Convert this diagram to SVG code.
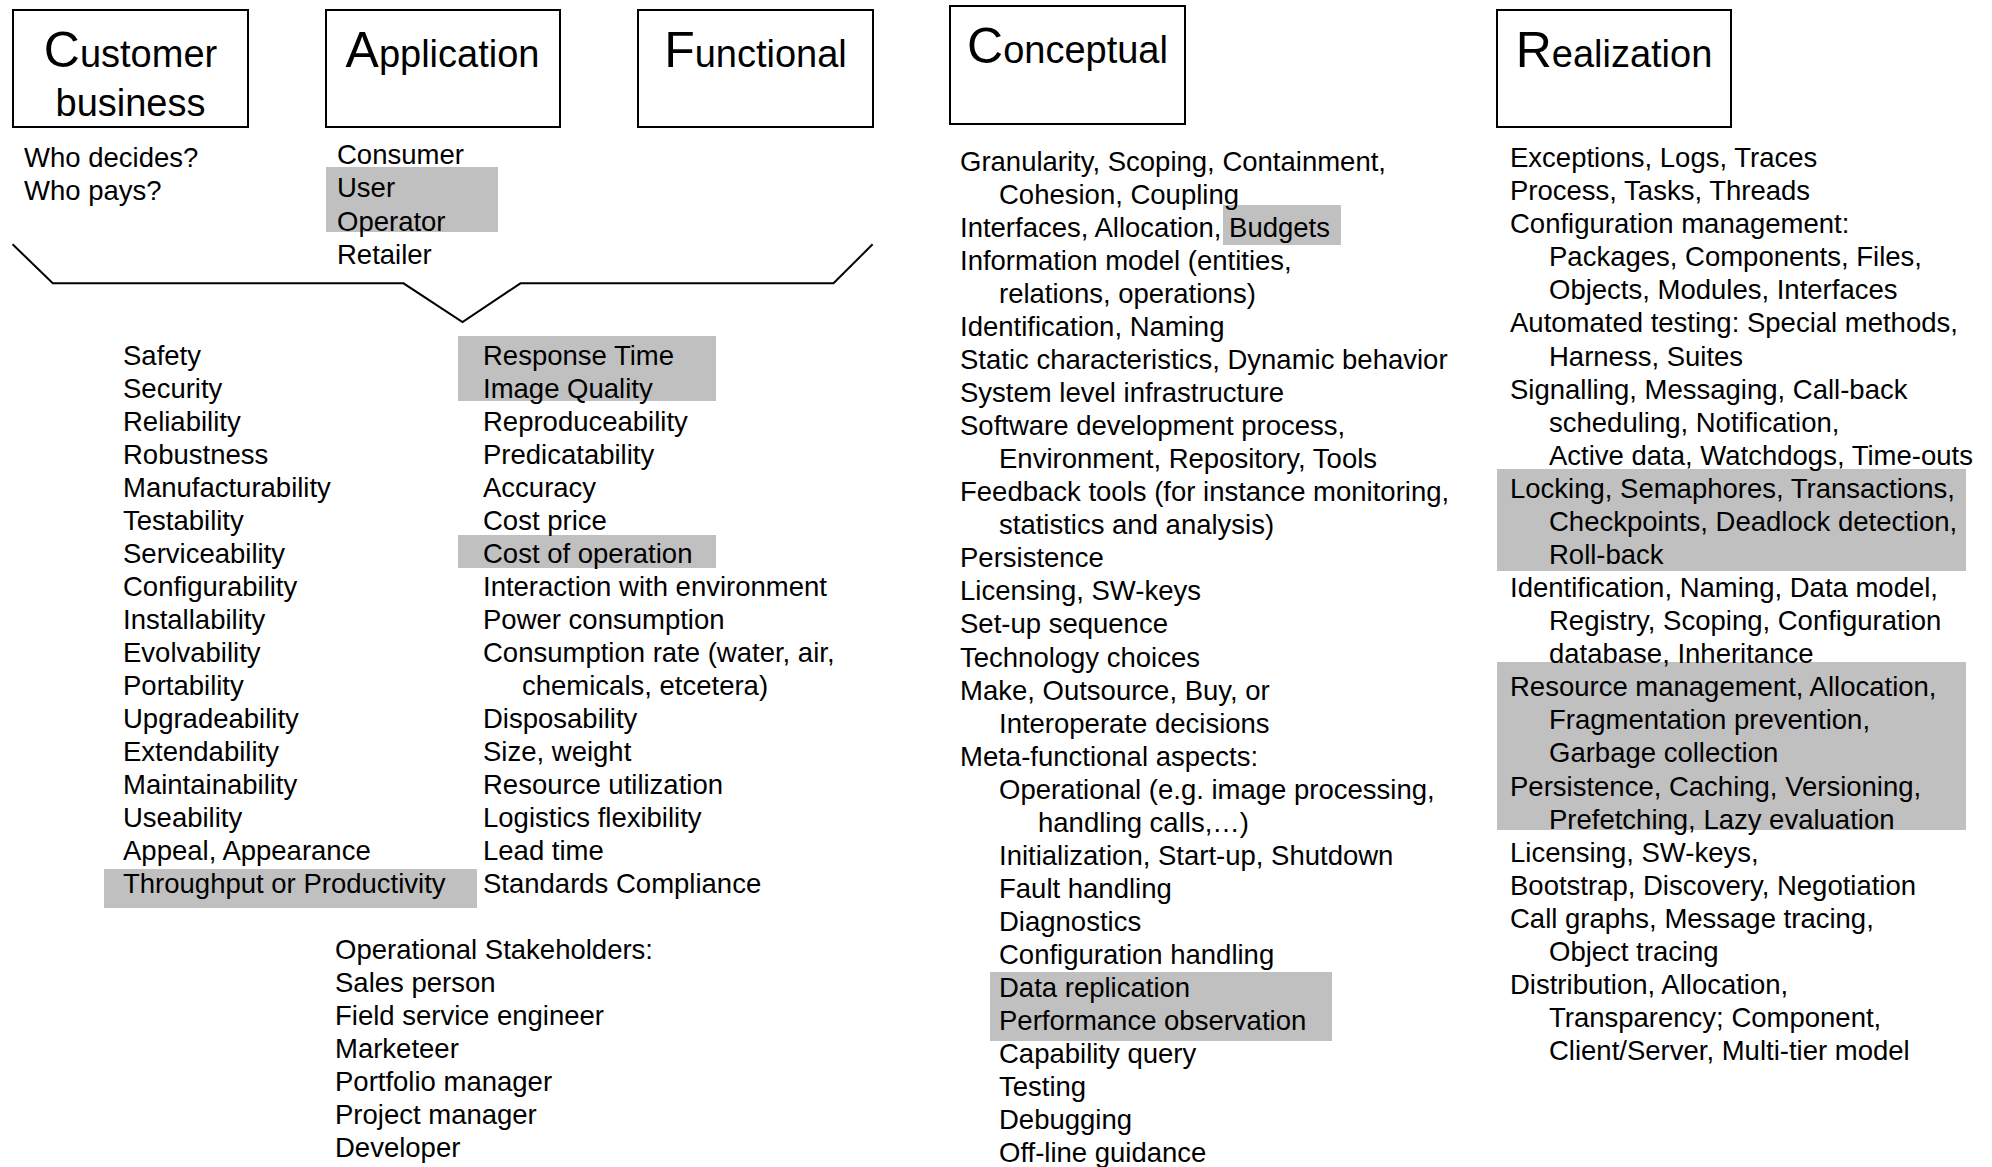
<svg xmlns="http://www.w3.org/2000/svg" width="1992" height="1167" viewBox="0 0 1992 1167">
<style>
text{font-family:"Liberation Sans",Arial,sans-serif;fill:#000}
.t{font-size:27.5px}
.h{font-size:38px}
.hc{font-size:50px}
.box{fill:#fff;stroke:#000;stroke-width:2}
.hl{fill:#c0c0c0;stroke:none}
.ln{fill:none;stroke:#000;stroke-width:2}
</style>
<rect width="1992" height="1167" fill="#fff"/>
<g id="highlights">
<rect class="hl" x="326" y="167" width="172" height="65"/>
<rect class="hl" x="458" y="336" width="258" height="65"/>
<rect class="hl" x="458" y="535" width="258" height="33"/>
<rect class="hl" x="104" y="869" width="373" height="39"/>
<rect class="hl" x="1223" y="205" width="118" height="40"/>
<rect class="hl" x="990" y="972" width="342" height="69"/>
<rect class="hl" x="1497" y="469" width="469" height="102"/>
<rect class="hl" x="1497" y="662" width="469" height="168"/>
</g>
<g id="connectors">
<polyline class="ln" points="12.6,244.3 52.8,283.3 403.5,283.3 462.5,322 520.5,283.3 833.5,283.3 872.6,244.3"/>
</g>
<g id="customer-business">
<rect class="box" x="13" y="10" width="235" height="117"/>
<text x="130.5" y="67" text-anchor="middle" class="h"><tspan class="hc">C</tspan>ustomer</text>
<text x="130.5" y="116" text-anchor="middle" class="h">business</text>
<text class="t" x="24" y="167">Who decides?</text>
<text class="t" x="24" y="200">Who pays?</text>
</g>
<g id="application">
<rect class="box" x="326" y="10" width="234" height="117"/>
<text x="442.5" y="66.5" text-anchor="middle" class="h"><tspan class="hc">A</tspan>pplication</text>
<text class="t" x="337" y="164.3">Consumer</text>
<text class="t" x="337" y="197.4">User</text>
<text class="t" x="337" y="230.5">Operator</text>
<text class="t" x="337" y="263.6">Retailer</text>
</g>
<g id="functional">
<rect class="box" x="638" y="10" width="235" height="117"/>
<text x="755.5" y="66.5" text-anchor="middle" class="h"><tspan class="hc">F</tspan>unctional</text>
</g>
<g id="qualities-left">
<text class="t" x="123" y="365">Safety</text>
<text class="t" x="123" y="398">Security</text>
<text class="t" x="123" y="431">Reliability</text>
<text class="t" x="123" y="464">Robustness</text>
<text class="t" x="123" y="497">Manufacturability</text>
<text class="t" x="123" y="530">Testability</text>
<text class="t" x="123" y="563">Serviceability</text>
<text class="t" x="123" y="596">Configurability</text>
<text class="t" x="123" y="629">Installability</text>
<text class="t" x="123" y="662">Evolvability</text>
<text class="t" x="123" y="695">Portability</text>
<text class="t" x="123" y="728">Upgradeability</text>
<text class="t" x="123" y="761">Extendability</text>
<text class="t" x="123" y="794">Maintainability</text>
<text class="t" x="123" y="827">Useability</text>
<text class="t" x="123" y="860">Appeal, Appearance</text>
<text class="t" x="123" y="893">Throughput or Productivity</text>
</g>
<g id="qualities-right">
<text class="t" x="483" y="365">Response Time</text>
<text class="t" x="483" y="398">Image Quality</text>
<text class="t" x="483" y="431">Reproduceability</text>
<text class="t" x="483" y="464">Predicatability</text>
<text class="t" x="483" y="497">Accuracy</text>
<text class="t" x="483" y="530">Cost price</text>
<text class="t" x="483" y="563">Cost of operation</text>
<text class="t" x="483" y="596">Interaction with environment</text>
<text class="t" x="483" y="629">Power consumption</text>
<text class="t" x="483" y="662">Consumption rate (water, air,</text>
<text class="t" x="522" y="695">chemicals, etcetera)</text>
<text class="t" x="483" y="728">Disposability</text>
<text class="t" x="483" y="761">Size, weight</text>
<text class="t" x="483" y="794">Resource utilization</text>
<text class="t" x="483" y="827">Logistics flexibility</text>
<text class="t" x="483" y="860">Lead time</text>
<text class="t" x="483" y="893">Standards Compliance</text>
</g>
<g id="stakeholders">
<text class="t" x="335" y="959">Operational Stakeholders:</text>
<text class="t" x="335" y="992">Sales person</text>
<text class="t" x="335" y="1025">Field service engineer</text>
<text class="t" x="335" y="1058">Marketeer</text>
<text class="t" x="335" y="1091">Portfolio manager</text>
<text class="t" x="335" y="1124">Project manager</text>
<text class="t" x="335" y="1157">Developer</text>
</g>
<g id="conceptual">
<rect class="box" x="950" y="6" width="235" height="118"/>
<text x="1067.5" y="62.5" text-anchor="middle" class="h"><tspan class="hc">C</tspan>onceptual</text>
<text class="t" x="960" y="171">Granularity, Scoping, Containment,</text>
<text class="t" x="999" y="204">Cohesion, Coupling</text>
<text class="t" x="960" y="237.1">Interfaces, Allocation, Budgets</text>
<text class="t" x="960" y="270.1">Information model (entities,</text>
<text class="t" x="999" y="303.1">relations, operations)</text>
<text class="t" x="960" y="336.2">Identification, Naming</text>
<text class="t" x="960" y="369.2">Static characteristics, Dynamic behavior</text>
<text class="t" x="960" y="402.2">System level infrastructure</text>
<text class="t" x="960" y="435.2">Software development process,</text>
<text class="t" x="999" y="468.3">Environment, Repository, Tools</text>
<text class="t" x="960" y="501.3">Feedback tools (for instance monitoring,</text>
<text class="t" x="999" y="534.3">statistics and analysis)</text>
<text class="t" x="960" y="567.4">Persistence</text>
<text class="t" x="960" y="600.4">Licensing, SW-keys</text>
<text class="t" x="960" y="633.4">Set-up sequence</text>
<text class="t" x="960" y="666.5">Technology choices</text>
<text class="t" x="960" y="699.5">Make, Outsource, Buy, or</text>
<text class="t" x="999" y="732.5">Interoperate decisions</text>
<text class="t" x="960" y="765.5">Meta-functional aspects:</text>
<text class="t" x="999" y="798.6">Operational (e.g. image processing,</text>
<text class="t" x="1038" y="831.6">handling calls,…)</text>
<text class="t" x="999" y="864.6">Initialization, Start-up, Shutdown</text>
<text class="t" x="999" y="897.7">Fault handling</text>
<text class="t" x="999" y="930.7">Diagnostics</text>
<text class="t" x="999" y="963.7">Configuration handling</text>
<text class="t" x="999" y="996.8">Data replication</text>
<text class="t" x="999" y="1029.8">Performance observation</text>
<text class="t" x="999" y="1062.8">Capability query</text>
<text class="t" x="999" y="1095.8">Testing</text>
<text class="t" x="999" y="1128.9">Debugging</text>
<text class="t" x="999" y="1161.6">Off-line guidance</text>
</g>
<g id="realization">
<rect class="box" x="1497" y="10" width="234" height="117"/>
<text x="1614" y="66.5" text-anchor="middle" class="h"><tspan class="hc">R</tspan>ealization</text>
<text class="t" x="1510" y="167">Exceptions, Logs, Traces</text>
<text class="t" x="1510" y="200.1">Process, Tasks, Threads</text>
<text class="t" x="1510" y="233.2">Configuration management:</text>
<text class="t" x="1549" y="266.2">Packages, Components, Files,</text>
<text class="t" x="1549" y="299.3">Objects, Modules, Interfaces</text>
<text class="t" x="1510" y="332.4">Automated testing: Special methods,</text>
<text class="t" x="1549" y="365.5">Harness, Suites</text>
<text class="t" x="1510" y="398.6">Signalling, Messaging, Call-back</text>
<text class="t" x="1549" y="431.6">scheduling, Notification,</text>
<text class="t" x="1549" y="464.7">Active data, Watchdogs, Time-outs</text>
<text class="t" x="1510" y="497.8">Locking, Semaphores, Transactions,</text>
<text class="t" x="1549" y="530.9">Checkpoints, Deadlock detection,</text>
<text class="t" x="1549" y="564">Roll-back</text>
<text class="t" x="1510" y="597">Identification, Naming, Data model,</text>
<text class="t" x="1549" y="630.1">Registry, Scoping, Configuration</text>
<text class="t" x="1549" y="663.2">database, Inheritance</text>
<text class="t" x="1510" y="696.3">Resource management, Allocation,</text>
<text class="t" x="1549" y="729.4">Fragmentation prevention,</text>
<text class="t" x="1549" y="762.4">Garbage collection</text>
<text class="t" x="1510" y="795.5">Persistence, Caching, Versioning,</text>
<text class="t" x="1549" y="828.6">Prefetching, Lazy evaluation</text>
<text class="t" x="1510" y="861.7">Licensing, SW-keys,</text>
<text class="t" x="1510" y="894.8">Bootstrap, Discovery, Negotiation</text>
<text class="t" x="1510" y="927.8">Call graphs, Message tracing,</text>
<text class="t" x="1549" y="960.9">Object tracing</text>
<text class="t" x="1510" y="994">Distribution, Allocation,</text>
<text class="t" x="1549" y="1027.1">Transparency; Component,</text>
<text class="t" x="1549" y="1060.2">Client/Server, Multi-tier model</text>
</g>
</svg>
